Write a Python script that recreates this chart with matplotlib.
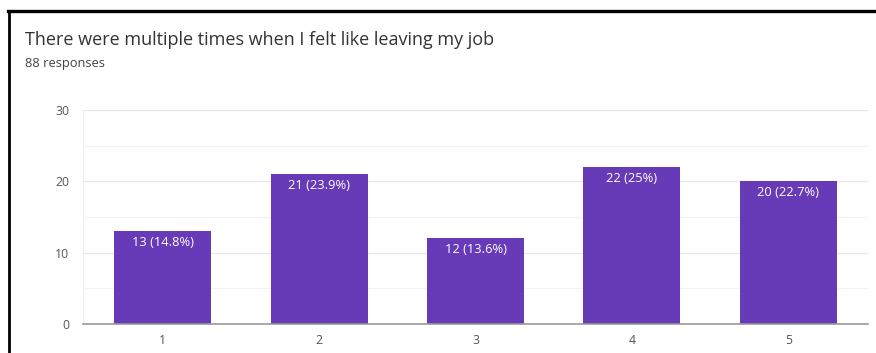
import matplotlib.pyplot as plt
from matplotlib.lines import Line2D

# survey answers on a 1-5 scale
ratings = ["1", "2", "3", "4", "5"]
counts = [13, 21, 12, 22, 20]
percents = ["14.8%", "23.9%", "13.6%", "25%", "22.7%"]
total = 88

plt.rcParams['font.family'] = ['Open Sans', 'DejaVu Sans']

fig = plt.figure(figsize=(8.76, 3.53), dpi=100)
ax = fig.add_axes([0.0947, 0.0822, 0.8963, 0.6058])

pos = range(1, len(ratings) + 1)
bars = ax.bar(pos, counts, width=0.62, color='#673ab7', zorder=3)

for b, c, p in zip(bars, counts, percents):
    ax.text(b.get_x() + b.get_width() / 2, c - 0.7, f"{c} ({p})",
            ha='center', va='top', color='white', fontsize=9.3, zorder=4)

ax.set_xlim(0.49, 5.51)
ax.set_ylim(0, 30)
ax.set_xticks(list(pos))
ax.set_xticklabels(ratings)
ax.set_yticks([0, 10, 20, 30])
ax.set_yticks([5, 15, 25], minor=True)
ax.grid(axis='y', which='major', color='#e8e8e8', linewidth=0.9, zorder=0)
ax.grid(axis='y', which='minor', color='#f3f3f3', linewidth=0.9, zorder=0)
ax.tick_params(axis='both', which='both', length=0, labelsize=8.8,
               labelcolor='#555555')
ax.tick_params(axis='x', pad=7)
ax.tick_params(axis='y', pad=10)

for side in ['top', 'right', 'left']:
    ax.spines[side].set_visible(False)
ax.spines['bottom'].set_color('#999999')
ax.spines['bottom'].set_linewidth(1.2)
ax.spines['bottom'].set_zorder(5)

# faint frame on both sides of the plot area
ax.axvline(5.51, color='#f0f0f0', linewidth=0.9, zorder=1)
ax.axvline(0.49, color='#f0f0f0', linewidth=0.9, zorder=1)

fig.text(25 / 876, 1 - 40 / 353, "There were multiple times when I felt like leaving my job",
         fontsize=13, color='#333333', va='center', ha='left')
fig.text(25 / 876, 1 - 64 / 353, f"{total} responses",
         fontsize=9.3, color='#444444', va='center', ha='left')

# black border along the top and left
fig.add_artist(Line2D([8 / 876, 1], [1 - 10.5 / 353, 1 - 10.5 / 353],
                      transform=fig.transFigure, color='black', linewidth=2.4))
fig.add_artist(Line2D([8.5 / 876, 8.5 / 876], [0, 1 - 10.5 / 353],
                      transform=fig.transFigure, color='black', linewidth=2.0))

fig.savefig("out.png", dpi=100)
